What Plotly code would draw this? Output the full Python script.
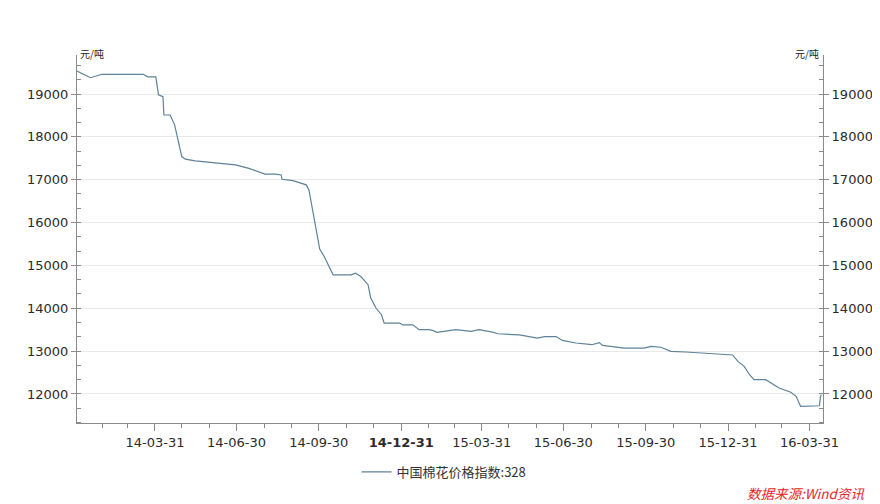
import plotly.graph_objects as go
import pandas as pd

# ---- data ----
dates = [
    "2014-01-03", "2014-01-18", "2014-01-31", "2014-03-18", "2014-03-23", "2014-04-01",
    "2014-04-04", "2014-04-09", "2014-04-10", "2014-04-17", "2014-04-22", "2014-04-25",
    "2014-04-30", "2014-05-04", "2014-05-15", "2014-06-29", "2014-07-13", "2014-08-01",
    "2014-08-12", "2014-08-19", "2014-08-20", "2014-09-01", "2014-09-16", "2014-09-19",
    "2014-09-23", "2014-09-27", "2014-10-01", "2014-10-06", "2014-10-11", "2014-10-16",
    "2014-11-05", "2014-11-10", "2014-11-16", "2014-11-24", "2014-11-27", "2014-12-03",
    "2014-12-09", "2014-12-12", "2014-12-29", "2015-01-02", "2015-01-13", "2015-01-20",
    "2015-01-31", "2015-02-04", "2015-02-09", "2015-03-02", "2015-03-19", "2015-03-28",
    "2015-04-12", "2015-04-18", "2015-05-12", "2015-06-01", "2015-06-09", "2015-06-22",
    "2015-06-29", "2015-07-14", "2015-08-01", "2015-08-09", "2015-08-13", "2015-09-01",
    "2015-09-06", "2015-09-28", "2015-10-06", "2015-10-17", "2015-10-28", "2015-11-14",
    "2015-12-08", "2015-12-21", "2016-01-05", "2016-01-11", "2016-01-18", "2016-01-24",
    "2016-01-29", "2016-02-11", "2016-02-18", "2016-02-26", "2016-03-10", "2016-03-16",
    "2016-03-21", "2016-04-07", "2016-04-11", "2016-04-12", "2016-04-13",
]
values = [
    19536, 19380, 19460, 19460, 19400, 19400,
    18980, 18940, 18510, 18510, 18280, 17975,
    17540, 17480, 17440, 17345, 17270, 17130,
    17130, 17110, 17010, 16980, 16880, 16760,
    16300, 15830, 15380, 15210, 14975, 14780,
    14780, 14820, 14740, 14550, 14240, 14000,
    13850, 13655, 13655, 13615, 13615, 13500,
    13500, 13485, 13440, 13500, 13460, 13500,
    13445, 13405, 13380, 13305, 13340, 13340,
    13250, 13190, 13150, 13200, 13135, 13095,
    13070, 13070, 13110, 13090, 12995, 12980,
    12955, 12930, 12910, 12760, 12645, 12450,
    12335, 12335, 12240, 12140, 12040, 11945,
    11710, 11710, 11725, 11915, 11985,
]
series_name = "中国棉花价格指数:328"

x_tickvals = ["2014-03-31", "2014-06-30", "2014-09-30", "2014-12-31", "2015-03-31",
              "2015-06-30", "2015-09-30", "2015-12-31", "2016-03-31"]
x_ticktext = ["14-03-31", "14-06-30", "14-09-30", "<b>14-12-31</b>", "15-03-31",
              "15-06-30", "15-09-30", "15-12-31", "16-03-31"]
y_tickvals = [12000, 13000, 14000, 15000, 16000, 17000, 18000, 19000]
y_ticktext = ["12000", "13000", "14000", "15000", "16000", "17000", "18000", "19000"]
unit_label = "元/吨"
source_label = "数据来源:Wind资讯"

minor_x = [d.strftime("%Y-%m-%d") for d in pd.date_range("2014-01-31", "2016-03-31", freq="ME")]

# ---- styles ----
LINE_COLOR = "#5d8299"
AXIS_COLOR = "#8a8a8a"
TXT = "#2b2b2b"
FONT = "DejaVu Sans"
Y_RANGE = [11323, 19910]
X_RANGE = ["2014-01-03", "2016-04-15"]

fig = go.Figure()
fig.add_trace(go.Scatter(
    x=dates, y=values, mode="lines", name=series_name,
    line=dict(color=LINE_COLOR, width=1.2, shape="linear"),
))

common_y = dict(
    range=Y_RANGE, tickvals=y_tickvals, ticktext=y_ticktext,
    showline=True, linecolor=AXIS_COLOR, linewidth=1,
    ticks="outside", ticklen=5, tickcolor=AXIS_COLOR, tickwidth=1,
    tickfont=dict(family=FONT, size=13, color=TXT),
    minor=dict(dtick=1000 / 3, tick0=12000, ticks="inside", ticklen=4,
               tickcolor=AXIS_COLOR, showgrid=False),
    zeroline=False, fixedrange=True, automargin=False,
)

# page body has an 8px default margin, so the figure is 8px smaller than the window
fig.update_layout(
    width=872, height=496,
    margin=dict(l=69, r=57, t=47, b=81, autoexpand=False),
    paper_bgcolor="white", plot_bgcolor="white",
    font=dict(family=FONT, size=13, color=TXT),
    xaxis=dict(
        type="date", range=X_RANGE, tickvals=x_tickvals, ticktext=x_ticktext,
        showline=True, linecolor=AXIS_COLOR, linewidth=1,
        ticks="outside", ticklen=7, tickcolor=AXIS_COLOR,
        tickfont=dict(family=FONT, size=13, color=TXT),
        minor=dict(tickvals=minor_x, ticks="outside", ticklen=4, tickcolor=AXIS_COLOR, showgrid=False),
        showgrid=False, zeroline=False, automargin=False,
    ),
    yaxis=dict(side="left", showgrid=True, gridcolor="#e9e9e9", gridwidth=1, **common_y),
    yaxis2=dict(side="right", overlaying="y", showgrid=False, **common_y),
    showlegend=True,
    legend=dict(
        orientation="h", x=0.492, xanchor="center", y=-0.133, yanchor="middle",
        font=dict(family="Noto Sans CJK SC", size=13, color="#333333"),
        itemwidth=30, bgcolor="rgba(0,0,0,0)",
    ),
)

# invisible trace so the right axis is drawn
fig.add_trace(go.Scatter(x=[dates[0]], y=[values[0]], yaxis="y2", mode="lines",
                         line=dict(color="rgba(0,0,0,0)"), showlegend=False, hoverinfo="skip"))

fig.add_annotation(text=unit_label, xref="paper", yref="paper", x=0.0, y=1.0,
                   xanchor="left", yanchor="middle", showarrow=False, xshift=1, yshift=2,
                   font=dict(family="Noto Sans CJK SC", size=10, color="#222222"))
fig.add_annotation(text=unit_label, xref="paper", yref="paper", x=1.0, y=1.0,
                   xanchor="right", yanchor="middle", showarrow=False, xshift=-2, yshift=2,
                   font=dict(family="Noto Sans CJK SC", size=10, color="#222222"))
fig.add_annotation(text="<i>" + source_label + "</i>", xref="paper", yref="paper",
                   x=1.0, y=-0.19, xanchor="right", yanchor="middle", showarrow=False,
                   xshift=44,
                   font=dict(family="Noto Sans CJK SC", size=13.5, color="#e4262b"))

fig.write_html("out.html")
